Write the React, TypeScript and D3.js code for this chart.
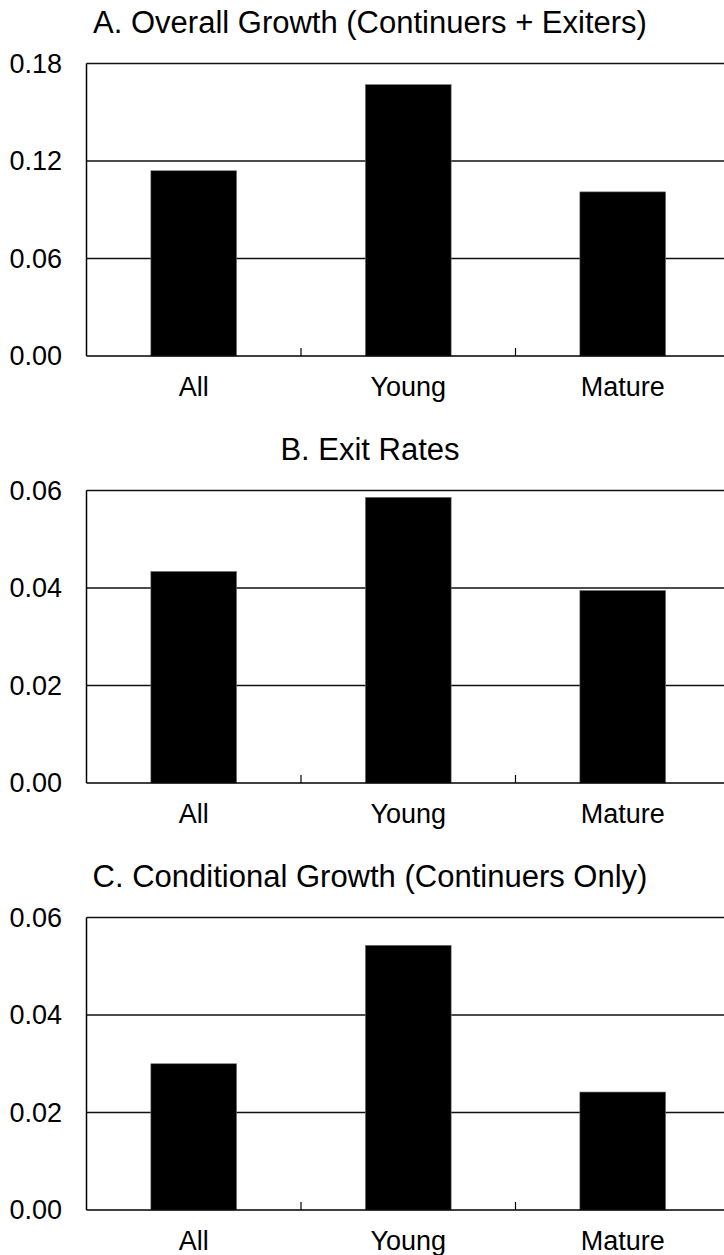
import React from "react";
import * as d3 from "d3";

const categories = ["All", "Young", "Mature"];
const overallGrowth = [0.114, 0.167, 0.101];
const exitRates = [0.0434, 0.0586, 0.0395];
const conditionalGrowth = [0.030, 0.0543, 0.0242];
const ticksA = [0, 0.06, 0.12, 0.18];
const ticksBC = [0, 0.02, 0.04, 0.06];
const titles = [
  "A. Overall Growth (Continuers + Exiters)",
  "B. Exit Rates",
  "C. Conditional Growth (Continuers Only)",
];

const panels = [
  { title: titles[0], values: overallGrowth, ticks: ticksA, max: 0.18 },
  { title: titles[1], values: exitRates, ticks: ticksBC, max: 0.06 },
  { title: titles[2], values: conditionalGrowth, ticks: ticksBC, max: 0.06 },
];

const W = 724;
const H = 1255;
const axisX = 86.5;
const step = 214.5;
const panelTop0 = 63.5;
const panelGap = 427;
const panelH = 292.5;
const font = "Liberation Sans, Arial, Helvetica, sans-serif";

export default function App() {
  const x = d3
    .scaleBand<string>()
    .domain(categories)
    .range([axisX, axisX + step * categories.length])
    .paddingInner(0.6)
    .paddingOuter(0.3);
  const realStep = x.step();

  return (
    <svg
      width={W}
      height={H}
      style={{ position: "absolute", left: 0, top: 0, background: "#fff" }}
      fontFamily={font}
    >
      {panels.map((p, i) => {
        const top = panelTop0 + i * panelGap;
        const bottom = top + panelH;
        const y = d3.scaleLinear().domain([0, p.max]).range([bottom, top]);
        const fmt = d3.format(".2f");
        return (
          <g key={i}>
            <text
              x={370}
              y={top - 30.5}
              textAnchor="middle"
              fontSize={31}
              fill="#000"
            >
              {p.title}
            </text>
            {p.ticks.map((t) => (
              <g key={t}>
                {t > 0 && (
                  <line
                    x1={axisX}
                    x2={W}
                    y1={y(t)}
                    y2={y(t)}
                    stroke="#111"
                    strokeWidth={1.4}
                  />
                )}
                <text
                  x={62}
                  y={y(t)}
                  textAnchor="end"
                  dominantBaseline="central"
                  fontSize={27}
                  fill="#000"
                >
                  {fmt(t)}
                </text>
              </g>
            ))}
            {p.values.map((v, j) => (
              <rect
                key={j}
                x={x(categories[j])}
                y={y(v)}
                width={x.bandwidth()}
                height={bottom - y(v)}
                fill="#000"
                stroke="#777"
                strokeWidth={0.6}
              />
            ))}
            <line x1={axisX} x2={axisX} y1={top} y2={bottom} stroke="#000" strokeWidth={1.5} />
            <line x1={axisX} x2={W} y1={bottom} y2={bottom} stroke="#000" strokeWidth={1.5} />
            {categories.slice(1).map((c, j) => {
              const tx = axisX + (j + 1) * realStep;
              return (
                <line
                  key={c}
                  x1={tx}
                  x2={tx}
                  y1={bottom}
                  y2={bottom - 8}
                  stroke="#000"
                  strokeWidth={1.2}
                />
              );
            })}
            {categories.map((c) => (
              <text
                key={c}
                x={(x(c) as number) + x.bandwidth() / 2}
                y={bottom + 40}
                textAnchor="middle"
                fontSize={27}
                fill="#000"
              >
                {c}
              </text>
            ))}
          </g>
        );
      })}
    </svg>
  );
}
